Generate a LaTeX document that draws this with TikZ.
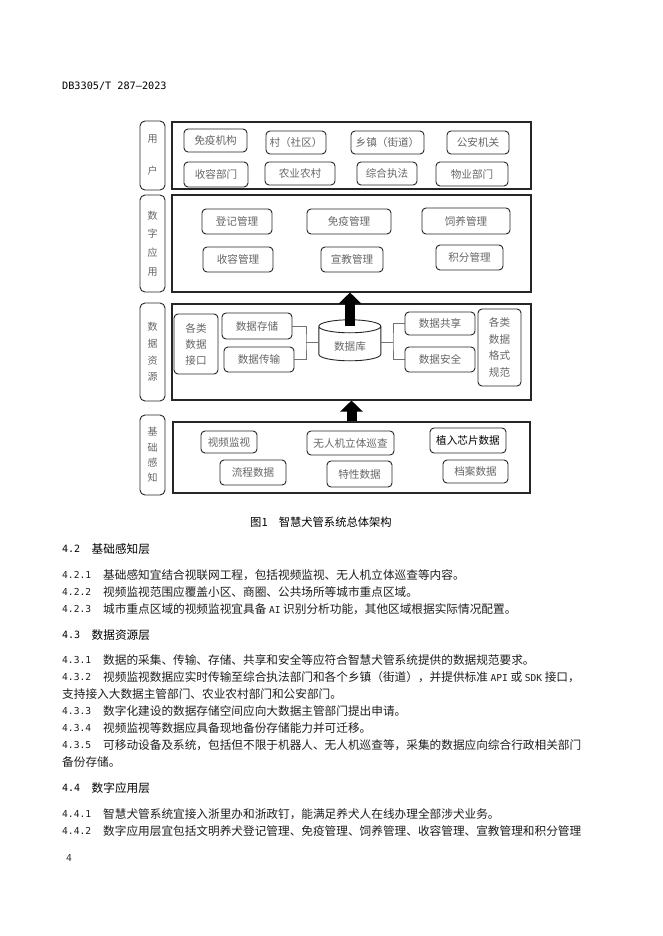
\documentclass[tikz,border=0pt]{standalone}
\usepackage{fontspec}
\setmainfont{Noto Sans CJK SC}
\newfontfamily\mono{DejaVu Sans Mono}
\usetikzlibrary{arrows.meta}
\newcommand{\lat}[1]{{\mono\fontsize{9.6}{12}\selectfont #1}}
\begin{document}
\begin{tikzpicture}[x=1pt,y=1pt,
  mb/.style={draw=black!85, line width=1.1pt, inner sep=0pt},
  lb/.style={draw=black!85, line width=0.9pt, rounded corners=5pt, inner sep=0pt, text=black!60, align=center},
  rb/.style={draw=black!85, line width=0.9pt, rounded corners=4pt, inner sep=0pt, text=black!60, align=center, font=\fontsize{10.6}{13}\selectfont},
  conn/.style={draw=black!55, line width=0.6pt},
  cyl/.style={draw=black!85, line width=0.9pt, fill=white},
  bigarrow/.style={draw=black, line width=10pt, -{Triangle[width=22pt,length=11pt]}},
  body/.style={anchor=west, inner sep=0pt, text=black!88, font=\fontsize{11.66}{14}\selectfont},
  num/.style={anchor=west, inner sep=0pt, text=black!88, font=\mono\fontsize{9.6}{11}\selectfont},
  head/.style={anchor=west, inner sep=0pt, text=black, font=\fontsize{11.66}{14}\selectfont},
  hnum/.style={anchor=west, inner sep=0pt, text=black, font=\mono\fontsize{10}{11}\selectfont}
]
\fill[white] (0,0) rectangle (662,-936);
\useasboundingbox (0,0) rectangle (662,-936);

% header
\node[anchor=west, inner sep=0pt, font=\mono\fontsize{10.2}{12}\selectfont] (hdr) at (62,-86) {DB3305/T 287—2023};

% ---------- row 1: users ----------
\node[mb, minimum width=359, minimum height=67] (r1) at (351.5,-155.5) {};
\node[lb, minimum width=25, minimum height=69, font=\fontsize{10}{32}\selectfont] (l1) at (152.5,-155.5) {用\\户};
\node[rb, minimum width=63, minimum height=23] (a1) at (215.5,-140.5) {免疫机构};
\node[rb, minimum width=60, minimum height=23] (a2) at (296,-142.5) {村（社区）};
\node[rb, minimum width=73, minimum height=23] (a3) at (387.5,-142.5) {乡镇（街道）};
\node[rb, minimum width=62, minimum height=23] (a4) at (478,-142.5) {公安机关};
\node[rb, minimum width=64, minimum height=25] (a5) at (216,-174.5) {收容部门};
\node[rb, minimum width=70, minimum height=23] (a6) at (300,-173.5) {农业农村};
\node[rb, minimum width=60, minimum height=23] (a7) at (387,-173.5) {综合执法};
\node[rb, minimum width=72, minimum height=24] (a8) at (472,-174) {物业部门};

% ---------- row 2: digital applications ----------
\node[mb, minimum width=359, minimum height=97] (r2) at (351.5,-243.5) {};
\node[lb, minimum width=25, minimum height=97, font=\fontsize{10}{18.7}\selectfont] (l2) at (152.5,-243.5) {数\\字\\应\\用};
\node[rb, minimum width=70, minimum height=25] (b1) at (237,-221.5) {登记管理};
\node[rb, minimum width=84, minimum height=25] (b2) at (349,-221.5) {免疫管理};
\node[rb, minimum width=88, minimum height=26] (b3) at (466,-221) {饲养管理};
\node[rb, minimum width=70, minimum height=25] (b4) at (238,-259.5) {收容管理};
\node[rb, minimum width=62, minimum height=25] (b5) at (352,-259.5) {宣教管理};
\node[rb, minimum width=67, minimum height=25] (b6) at (469.5,-257.5) {积分管理};

% ---------- row 3: data resources ----------
\node[mb, minimum width=359, minimum height=96] (r3) at (351.5,-352) {};
\node[lb, minimum width=25, minimum height=98, font=\fontsize{10}{16.7}\selectfont] (l3) at (152.5,-352) {数\\据\\资\\源};
\node[rb, minimum width=44, minimum height=60, font=\fontsize{10.6}{16}\selectfont] (c1) at (196,-344) {各类\\数据\\接口};
\node[rb, minimum width=70, minimum height=26] (c2) at (257,-326) {数据存储};
\node[rb, minimum width=70, minimum height=25] (c3) at (259,-359.5) {数据传输};
\node[inner sep=0pt, minimum width=62, minimum height=41] (db) at (350,-340.5) {};
\node[rb, minimum width=70, minimum height=23] (c4) at (440,-323.5) {数据共享};
\node[rb, minimum width=70, minimum height=25] (c5) at (440,-359.5) {数据安全};
\node[rb, minimum width=43, minimum height=77, font=\fontsize{10.6}{16.5}\selectfont] (c6) at (499.5,-347.5) {各类\\数据\\格式\\规范};

% cylinder
\draw[cyl] ([yshift=-6.5pt]db.north west) -- ++(0,-28)
  arc[start angle=180,end angle=360,x radius=31,y radius=6.5] -- ++(0,28)
  arc[start angle=0,end angle=180,x radius=31,y radius=6.5]
  arc[start angle=180,end angle=360,x radius=31,y radius=6.5];
\node[inner sep=0pt, text=black!60, font=\fontsize{10.6}{13}\selectfont] (dbt) at ([yshift=-6pt]db.center) {数据库};

% connectors
\coordinate (jl) at (306,-342);
\coordinate (jr) at (393,-342);
\draw[conn] (c2.east) -| (jl) |- (c3.east);
\draw[conn] (jl) -- (jl -| db.west);
\draw[conn] (c4.west) -| (jr) |- (c5.west);
\draw[conn] (jr) -- (jr -| db.east);

% ---------- row 4: basic sensing ----------
\node[mb, minimum width=357, minimum height=71] (r4) at (351.5,-457.5) {};
\node[lb, minimum width=25, minimum height=80, font=\fontsize{10}{15.3}\selectfont] (l4) at (152.5,-455) {基\\础\\感\\知};
\node[rb, minimum width=56, minimum height=22] (d1) at (229,-442) {视频监视};
\node[rb, minimum width=87, minimum height=24] (d2) at (350.5,-443) {无人机立体巡查};
\node[rb, minimum width=76, minimum height=25, text=black] (d3) at (468,-440.5) {植入芯片数据};
\node[rb, minimum width=66, minimum height=25] (d4) at (253,-472.5) {流程数据};
\node[rb, minimum width=65, minimum height=26] (d5) at (359.5,-474) {特性数据};
\node[rb, minimum width=65, minimum height=23] (d6) at (475.5,-471.5) {档案数据};

% big arrows
\draw[bigarrow] ([yshift=-6.5pt]db.north) -- (r2.south -| db.north);
\draw[bigarrow] (r4.north) -- (r3.south);

% caption
\node[anchor=west, inner sep=0pt, font=\fontsize{11.3}{13}\selectfont] (cap) at (250,-522) {图1\hspace{11pt}智慧犬管系统总体架构};

% 4.2
\node[hnum] (n42) at (62,-549) {4.2};
\node[head] (t42) at (91.5,-549) {基础感知层};
\node[num] (n421) at (62,-575) {4.2.1};
\node[body] (t421) at (103,-575) {基础感知宜结合视联网工程，包括视频监视、无人机立体巡查等内容。};
\node[num] (n422) at (62,-592) {4.2.2};
\node[body] (t422) at (103,-592) {视频监视范围应覆盖小区、商圈、公共场所等城市重点区域。};
\node[num] (n423) at (62,-609) {4.2.3};
\node[body] (t423) at (103,-609) {城市重点区域的视频监视宜具备 \lat{AI} 识别分析功能，其他区域根据实际情况配置。};

% 4.3
\node[hnum] (n43) at (62,-635) {4.3};
\node[head] (t43) at (91.5,-635) {数据资源层};
\node[num] (n431) at (62,-660) {4.3.1};
\node[body] (t431) at (103,-660) {数据的采集、传输、存储、共享和安全等应符合智慧犬管系统提供的数据规范要求。};
\node[num] (n432) at (62,-677) {4.3.2};
\node[body] (t432) at (103,-677) {视频监视数据应实时传输至综合执法部门和各个乡镇（街道），并提供标准 \lat{API} 或 \lat{SDK} 接口，};
\node[body] (t432b) at (62,-694) {支持接入大数据主管部门、农业农村部门和公安部门。};
\node[num] (n433) at (62,-711) {4.3.3};
\node[body] (t433) at (103,-711) {数字化建设的数据存储空间应向大数据主管部门提出申请。};
\node[num] (n434) at (62,-728) {4.3.4};
\node[body] (t434) at (103,-728) {视频监视等数据应具备现地备份存储能力并可迁移。};
\node[num] (n435) at (62,-745) {4.3.5};
\node[body] (t435) at (103,-745) {可移动设备及系统，包括但不限于机器人、无人机巡查等，采集的数据应向综合行政相关部门};
\node[body] (t435b) at (62,-762) {备份存储。};

% 4.4
\node[hnum] (n44) at (62,-788) {4.4};
\node[head] (t44) at (91.5,-788) {数字应用层};
\node[num] (n441) at (62,-814) {4.4.1};
\node[body] (t441) at (103,-814) {智慧犬管系统宜接入浙里办和浙政钉，能满足养犬人在线办理全部涉犬业务。};
\node[num] (n442) at (62,-831) {4.4.2};
\node[body] (t442) at (103,-831) {数字应用层宜包括文明养犬登记管理、免疫管理、饲养管理、收容管理、宣教管理和积分管理};

% page number
\node[anchor=west, inner sep=0pt, text=black!80, font=\mono\fontsize{9.6}{10}\selectfont] (pg) at (66,-858) {4};
\end{tikzpicture}
\end{document}
